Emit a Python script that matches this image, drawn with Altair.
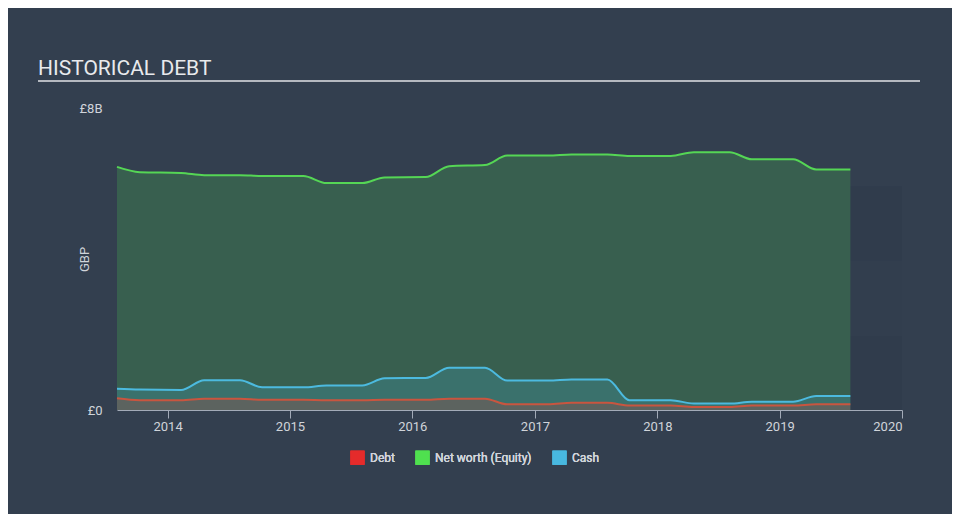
import altair as alt
import pandas as pd

# ---- data (values in £ billions) ----
dates = ["2013-08-03", "2013-10-10", "2014-02-10", "2014-04-20", "2014-08-05", "2014-10-10",
         "2015-02-10", "2015-04-20", "2015-08-05", "2015-10-10", "2016-02-10", "2016-04-20",
         "2016-08-05", "2016-10-10", "2017-02-10", "2017-04-20", "2017-08-05", "2017-10-10",
         "2018-02-10", "2018-04-20", "2018-08-05", "2018-10-10", "2019-02-10", "2019-04-20",
         "2019-07-31"]
net_worth = [6.44, 6.30, 6.28, 6.22, 6.22, 6.20, 6.20, 6.01, 6.01, 6.16, 6.17, 6.46, 6.49,
             6.74, 6.74, 6.77, 6.77, 6.73, 6.73, 6.83, 6.83, 6.64, 6.64, 6.37, 6.37]
cash = [0.56, 0.54, 0.53, 0.79, 0.79, 0.60, 0.60, 0.65, 0.65, 0.84, 0.85, 1.12, 1.12,
        0.78, 0.78, 0.81, 0.81, 0.26, 0.26, 0.17, 0.17, 0.22, 0.22, 0.37, 0.37]
debt = [0.31, 0.26, 0.26, 0.30, 0.30, 0.27, 0.27, 0.26, 0.26, 0.27, 0.27, 0.30, 0.30,
        0.15, 0.15, 0.19, 0.19, 0.12, 0.12, 0.08, 0.08, 0.12, 0.12, 0.15, 0.15]

series_names = ["Debt", "Net worth (Equity)", "Cash"]
series_colors = ["#e52b2b", "#4fe04f", "#48b8e0"]
line_colors = ["#c9553f", "#55d655", "#4cbadf"]

# forecast shading bands
band_start = ["2019-07-31", "2019-07-31", "2019-07-31"]
band_end = ["2020-01-01", "2020-01-01", "2020-01-01"]
band_low = [0.0, 1.96, 3.97]
band_high = [1.96, 3.97, 5.93]
band_kind = ["a", "b", "a"]

y_ticks = [0, 8]
y_tick_labels = ["£0", "£8B"]
x_years = [2014, 2015, 2016, 2017, 2018, 2019, 2020]

# ---- tables ----
rows = []
for name, vals in zip(["Net worth (Equity)", "Cash", "Debt"], [net_worth, cash, debt]):
    for d, v in zip(dates, vals):
        rows.append({"date": d, "value": v, "series": name})
df = pd.DataFrame(rows)
bands = pd.DataFrame({"start": band_start, "end": band_end, "low": band_low,
                      "high": band_high, "kind": band_kind})

x_scale = alt.Scale(domain=[alt.DateTime(year=2013, month=8, date=3),
                            alt.DateTime(year=2020, month=1, date=1)])
y_scale = alt.Scale(domain=[0, 8])

label_expr = "datum.value == 0 ? '%s' : '%s'" % (y_tick_labels[0], y_tick_labels[1])

x_enc = alt.X("date:T", scale=x_scale,
              axis=alt.Axis(values=[alt.DateTime(year=y, month=1, date=1) for y in x_years],
                            format="%Y", title=None, grid=False,
                            domainColor="#a3abb8", tickColor="#a3abb8", tickSize=8,
                            labelColor="#d0d4da", labelFontSize=13, labelPadding=2,
                            labelFont="Roboto"))
y_enc = alt.Y("value:Q", scale=y_scale,
              axis=alt.Axis(values=y_ticks, labelExpr=label_expr, title="GBP",
                            grid=False, domain=False, ticks=False,
                            labelColor="#d0d4da", labelFontSize=13, labelPadding=15,
                            labelFont="Roboto",
                            titleColor="#d0d4da", titleFontSize=13, titleFontWeight="normal",
                            titleFont="Roboto", titleX=-33, titleY=151,
                            titleAlign="center", titleBaseline="middle"))

color_enc = alt.Color("series:N",
                      scale=alt.Scale(domain=series_names, range=series_colors),
                      legend=alt.Legend(title=None, orient="none", legendX=233, legendY=342,
                                        direction="horizontal", symbolType="square",
                                        symbolSize=200, symbolOpacity=1, symbolStrokeWidth=0,
                                        labelColor="#d0d4da", labelFontSize=12,
                                        labelFont="Roboto", columnPadding=20, labelOffset=5))
stroke_enc = alt.Stroke("series:N",
                        scale=alt.Scale(domain=series_names, range=line_colors),
                        legend=None)

base = alt.Chart(df)

band_layer = alt.Chart(bands).mark_rect().encode(
    x=alt.X("start:T", scale=x_scale),
    x2="end:T",
    y=alt.Y("low:Q", scale=y_scale),
    y2="high:Q",
    color=alt.Color("kind:N", scale=alt.Scale(domain=["a", "b"], range=["#303c4c", "#323e4e"]),
                    legend=None),
)

def area_layer(name):
    return base.transform_filter(alt.datum.series == name).mark_area(
        interpolate="monotone", fillOpacity=0.2).encode(x=x_enc, y=y_enc, color=color_enc)

def line_layer(name):
    return base.transform_filter(alt.datum.series == name).mark_line(
        interpolate="monotone", strokeWidth=2).encode(x=x_enc, y=y_enc, stroke=stroke_enc)

title_rule = alt.Chart(pd.DataFrame({"k": [0]})).mark_rule(
    color="#b5b9c0", strokeWidth=2).encode(
    x=alt.value(-79), x2=alt.value(803), y=alt.value(-27))

chart = alt.layer(
    band_layer,
    area_layer("Net worth (Equity)"),
    area_layer("Cash"),
    area_layer("Debt"),
    line_layer("Net worth (Equity)"),
    line_layer("Cash"),
    line_layer("Debt"),
    title_rule,
).resolve_scale(color="independent").properties(
    width=785, height=302,
    background="#333f4f",
    autosize=alt.AutoSizeParams(type="none"),
    padding={"left": 109, "top": 100, "right": 50, "bottom": 104},
    title=alt.TitleParams("HISTORICAL DEBT", anchor="start", frame="group", dx=-79, dy=40,
                          fontSize=21, color="#e8eaed", fontWeight="normal", font="Roboto",
                          baseline="alphabetic", offset=24),
).configure_view(stroke=None)

chart.save("out.html", embed_options={"renderer": "svg", "actions": False})
